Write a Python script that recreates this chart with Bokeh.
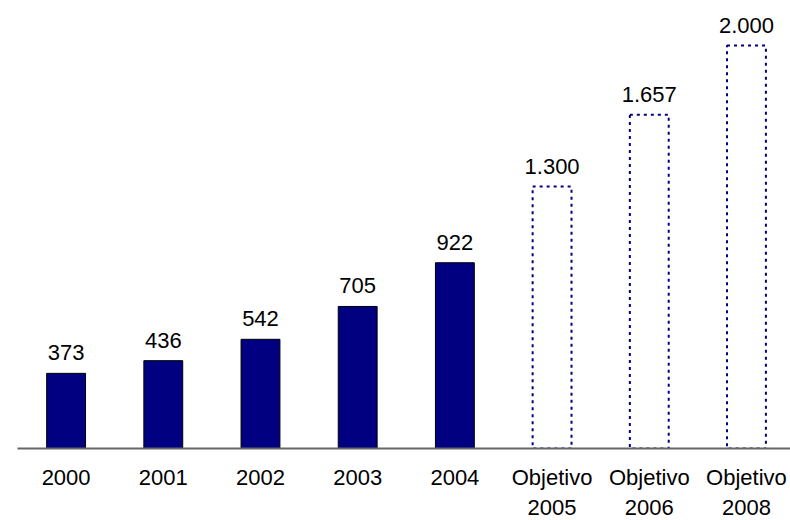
from bokeh.plotting import figure
from bokeh.models import Range1d, ColumnDataSource, FixedTicker, LabelSet
from bokeh.core.properties import value
from bokeh.embed import file_html
from bokeh.resources import INLINE

categories = ["2000", "2001", "2002", "2003", "2004", "Objetivo\n2005", "Objetivo\n2006", "Objetivo\n2008"]
values = [373, 436, 542, 705, 922, 1300, 1657, 2000]
is_target = [False, False, False, False, False, True, True, True]

xs = list(range(len(categories)))
labels = [f"{v:,}".replace(",", ".") for v in values]

actual = ColumnDataSource(dict(
    x=[x for x, t in zip(xs, is_target) if not t],
    top=[v for v, t in zip(values, is_target) if not t],
))
target = ColumnDataSource(dict(
    x=[x for x, t in zip(xs, is_target) if t],
    top=[v for v, t in zip(values, is_target) if t],
))
lab = ColumnDataSource(dict(x=xs, y=values, text=labels))

p = figure(frame_width=773, frame_height=440, output_backend="svg", toolbar_location=None,
           x_range=Range1d(-0.5, 7.453), y_range=Range1d(0, 2184),
           min_border_left=17, min_border_right=0, min_border_top=8, min_border_bottom=0)
p.outline_line_color = None
p.background_fill_color = "white"
p.border_fill_color = "white"
p.xgrid.visible = False
p.ygrid.visible = False
p.yaxis.visible = False

p.vbar(x="x", top="top", bottom=0, width=0.4, source=actual,
       fill_color="#000080", line_color="black", line_width=1)
p.vbar(x="x", top="top", bottom=0, width=0.4, source=target,
       fill_color=None, line_color="#000080", line_width=2, line_dash="3 4")

labels_set = LabelSet(x="x", y="y", text="text", source=lab, text_align="center",
                      text_baseline="alphabetic", y_offset=13,
                      text_font=value("Liberation Sans"), text_font_size=value("22px"),
                      text_color=value("black"))
p.add_layout(labels_set)

ax = p.xaxis[0]
ax.ticker = FixedTicker(ticks=xs)
ax.major_label_overrides = {x: c for x, c in zip(xs, categories)}
ax.major_tick_line_color = None
ax.minor_tick_line_color = None
ax.axis_line_color = "#666666"
ax.axis_line_width = 2
ax.major_label_standoff = 10
ax.major_label_text_font = "Liberation Sans"
ax.major_label_text_font_size = "22px"
ax.major_label_text_color = "black"

open("out.html", "w").write(file_html(p, INLINE))
